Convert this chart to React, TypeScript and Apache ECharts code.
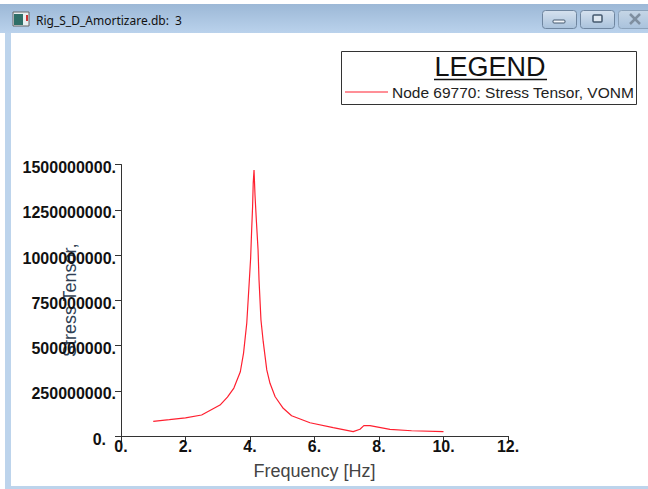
import React, { useEffect, useRef } from "react";
import * as echarts from "echarts";

const windowTitle = "Rig_S_D_Amortizare.db:  3";
const legendTitle = "LEGEND";
const seriesName = "Node 69770: Stress Tensor, VONM";
const xAxisName = "Frequency [Hz]";
const yAxisName = "Stress Tensor,";

const frequencies = [
  1.0, 1.5, 2.0, 2.5, 3.07, 3.3, 3.5, 3.7, 3.8, 3.9, 3.98, 4.02, 4.05, 4.08, 4.1, 4.125,
  4.155, 4.2, 4.25, 4.28, 4.34, 4.41, 4.52, 4.62, 4.78, 5.03, 5.29, 5.86, 6.58, 7.2, 7.41,
  7.53, 7.72, 8.34, 9.01, 10.0,
];
const stressMillions = [
  81, 90, 100, 116, 171, 215, 265, 355, 458, 624, 862, 983, 1133, 1265, 1398, 1470,
  1331, 1182, 1028, 862, 641, 521, 365, 291, 217, 153, 112, 73, 46, 24, 37,
  57, 57, 37, 29, 24,
];

const sans = "'Liberation Sans', Arial, sans-serif";

export default function App() {
  const ref = useRef<HTMLDivElement>(null);
  useEffect(() => {
    if (!ref.current) return;
    const chart = echarts.init(ref.current, undefined, { renderer: "svg" });
    const buttonFill = (top: string, bottom: string) => ({
      type: "linear", x: 0, y: 0, x2: 0, y2: 1,
      colorStops: [{ offset: 0, color: top }, { offset: 1, color: bottom }],
    });
    chart.setOption({
      animation: false,
      backgroundColor: "#ffffff",
      grid: { left: 121, top: 164.5, width: 387, height: 271.5, containLabel: false, outerBoundsMode: "none" },
      xAxis: {
        type: "value", min: 0, max: 12, interval: 2,
        name: xAxisName, nameLocation: "middle", nameGap: 26, nameMoveOverlap: false,
        nameTextStyle: { fontFamily: sans, fontSize: 18, color: "#444444" },
        axisLine: { show: true, onZero: false, lineStyle: { color: "#333333", width: 1 } },
        axisTick: { show: true, length: 6, lineStyle: { color: "#333333" } },
        axisLabel: {
          formatter: (v: number) => `${v}.`, margin: 2,
          fontFamily: sans, fontWeight: "bold", fontSize: 16, color: "#111111",
          showMinLabel: true, showMaxLabel: true,
        },
        splitLine: { show: false },
      },
      yAxis: {
        type: "value", min: 0, max: 1500000000, interval: 250000000,
        name: yAxisName, nameLocation: "middle", nameGap: 42, nameRotate: 90, nameMoveOverlap: false,
        nameTextStyle: { fontFamily: sans, fontSize: 18, color: "#2f3f55" },
        axisLine: { show: true, onZero: false, lineStyle: { color: "#333333", width: 1 } },
        axisTick: { show: true, length: 6, lineStyle: { color: "#333333" } },
        axisLabel: {
          formatter: (v: number) => (v === 0 ? "{z|0.}" : `${v}.`), margin: 5,
          fontFamily: sans, fontWeight: "bold", fontSize: 16, color: "#111111",
          padding: [6, 0, 0, 0],
          rich: { z: { fontFamily: sans, fontWeight: "bold", fontSize: 16, color: "#111111", padding: [0, 10, 0, 0] } },
          showMinLabel: true, showMaxLabel: true,
        },
        splitLine: { show: false },
      },
      legend: {
        show: true, left: 345, top: 84, itemWidth: 43, itemHeight: 14, itemGap: 0,
        padding: 0, data: [{ name: seriesName, icon: "path://M0 49H100V51H0Z" }],
        textStyle: { fontFamily: sans, fontSize: 15.5, color: "#222222", padding: [0, 0, 0, -1] },
      },
      series: [{
        name: seriesName,
        type: "line",
        data: frequencies.map((f, i) => [f, stressMillions[i] * 1000000]),
        showSymbol: false, symbol: "none", smooth: false,
        lineStyle: { color: "#ff2030", width: 1.2 },
        itemStyle: { color: "#ff2030" },
        z: 3,
      }],
      graphic: [
        { type: "rect", silent: true, z: -1, shape: { x: 0, y: 4, width: 648, height: 29 }, style: { fill: buttonFill("#9cb8d6", "#bad2ec") } },
        { type: "rect", silent: true, z: -1, shape: { x: 5, y: 33, width: 6, height: 456 }, style: { fill: "#bdd4ec" } },
        { type: "rect", silent: true, z: -1, shape: { x: 5, y: 486, width: 643, height: 3 }, style: { fill: "#bdd4ec" } },
        { type: "rect", silent: true, z: -1, shape: { x: 13, y: 12, width: 16, height: 14 }, style: { fill: "#e8eef0", stroke: "#666666", lineWidth: 1 } },
        { type: "rect", silent: true, z: -1, shape: { x: 14, y: 14, width: 9, height: 11 }, style: { fill: "#2f6f68" } },
        { type: "rect", silent: true, z: -1, shape: { x: 26, y: 15, width: 2, height: 6 }, style: { fill: "#cc3333" } },
        { type: "text", silent: true, z: -1, x: 36, y: 20, style: { text: windowTitle, fontFamily: "'Noto Sans', sans-serif", fontSize: 12, fill: "#111111", verticalAlign: "middle", align: "left" } },
        { type: "rect", silent: true, z: -1, shape: { x: 542.5, y: 10.5, width: 34, height: 18, r: 3 }, style: { fill: buttonFill("#d5e1ee", "#a9c2dc"), stroke: "#6f86a0", lineWidth: 1 } },
        { type: "rect", silent: true, z: -1, shape: { x: 553, y: 20, width: 12, height: 3, r: 1 }, style: { fill: "#f2f6fa", stroke: "#44586e", lineWidth: 1 } },
        { type: "rect", silent: true, z: -1, shape: { x: 580.5, y: 10.5, width: 34, height: 18, r: 3 }, style: { fill: buttonFill("#d5e1ee", "#a9c2dc"), stroke: "#6f86a0", lineWidth: 1 } },
        { type: "rect", silent: true, z: -1, shape: { x: 593, y: 15, width: 9, height: 7, r: 1 }, style: { fill: "#dfe8f1", stroke: "#44586e", lineWidth: 1.5 } },
        { type: "rect", silent: true, z: -1, shape: { x: 618.5, y: 10.5, width: 40, height: 18, r: 3 }, style: { fill: buttonFill("#c6d6e6", "#a9c2dc"), stroke: "#8ba2ba", lineWidth: 1 } },
        { type: "line", silent: true, z: -1, shape: { x1: 630, y1: 14, x2: 640, y2: 24 }, style: { stroke: "#7f8fa0", lineWidth: 2.5 } },
        { type: "line", silent: true, z: -1, shape: { x1: 640, y1: 14, x2: 630, y2: 24 }, style: { stroke: "#7f8fa0", lineWidth: 2.5 } },
        { type: "rect", silent: true, z: -1, shape: { x: 341.5, y: 51.5, width: 295, height: 53 }, style: { fill: "#ffffff", stroke: "#333333", lineWidth: 1 } },
        { type: "text", silent: true, z: 2, x: 490, y: 67, style: { text: legendTitle, fontFamily: sans, fontSize: 27, fill: "#111111", align: "center", verticalAlign: "middle" } },
        { type: "line", silent: true, z: 2, shape: { x1: 434, y1: 79.5, x2: 547, y2: 79.5 }, style: { stroke: "#111111", lineWidth: 1.5 } },
      ],
    });
    return () => chart.dispose();
  }, []);
  return <div ref={ref} style={{ position: "absolute", left: 0, top: 0, width: 648, height: 489 }} />;
}
